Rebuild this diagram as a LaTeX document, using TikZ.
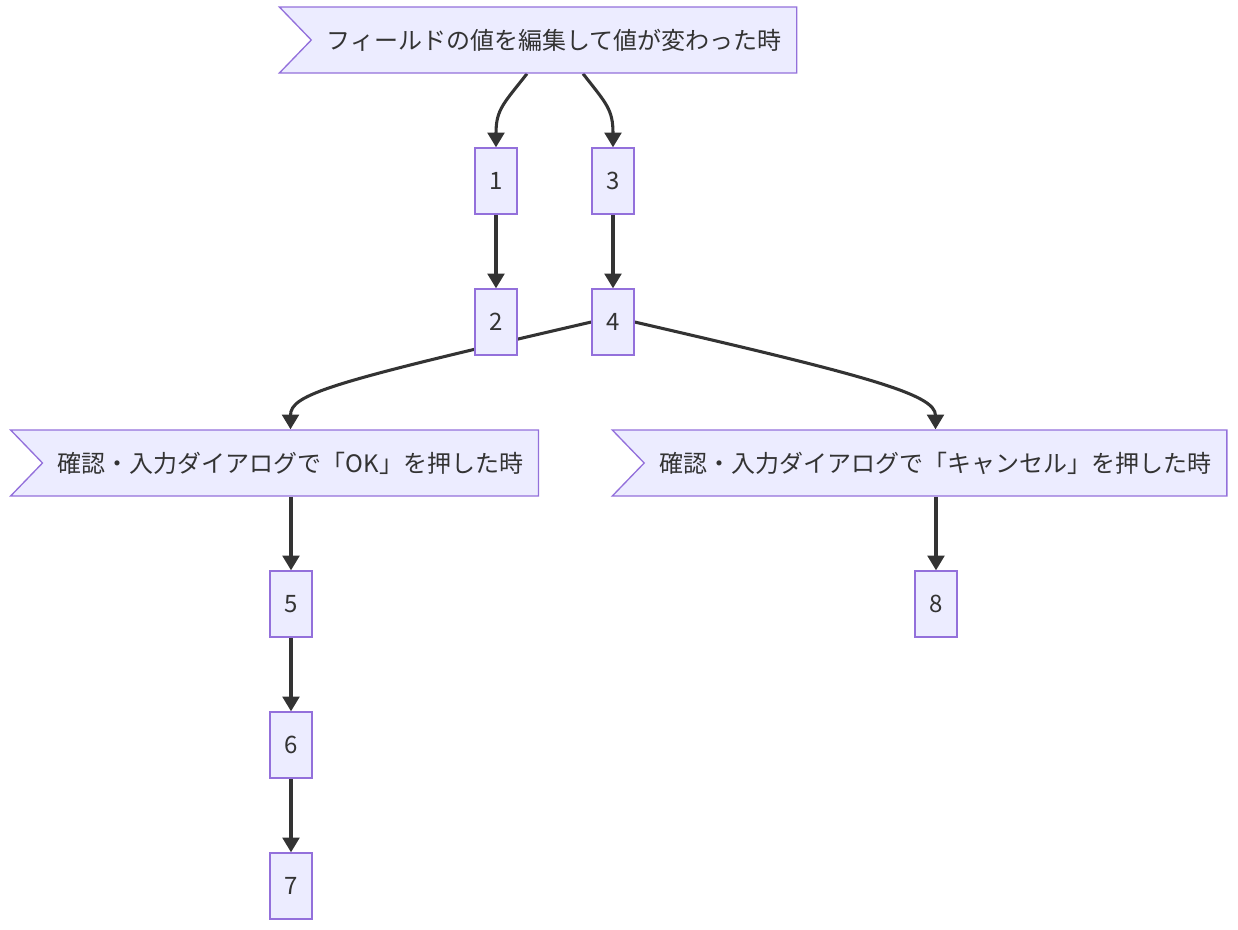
\documentclass[tikz,border=0pt]{standalone}
\usepackage{fontspec}
\setmainfont{Noto Sans CJK JP}
\usetikzlibrary{arrows.meta,shapes.symbols,backgrounds}
\definecolor{boxfill}{HTML}{ECECFF}
\definecolor{boxline}{HTML}{9370DB}
\definecolor{edgeline}{HTML}{333333}
\tikzset{
  stepnode/.style={draw=boxline,fill=boxfill,line width=1pt,text=edgeline,
    minimum width=31.5pt,minimum height=49.5pt,inner sep=0pt},
  flagnode/.style={draw=boxline,fill=boxfill,line width=1pt,text=edgeline,
    shape=signal,signal from=west,signal to=nowhere,signal pointer angle=92,
    minimum height=49.5pt,inner xsep=11.5pt,inner ysep=0pt},
  flow/.style={draw=edgeline,line width=2.3pt,-{Triangle[length=11pt,width=12.5pt]}}
}
\begin{document}
\begin{tikzpicture}[x=0.75pt,y=0.75pt,font=\fontsize{18pt}{22pt}\selectfont]
  \useasboundingbox (0,0) rectangle (1238,-929);
  % trigger
  \node[flagnode] (edit) at (554,-40) {フィールドの値を編集して値が変わった時};
  \node[stepnode] (s1) at (496,-181) {1};
  \node[stepnode] (s3) at (613,-181) {3};
  \node[stepnode] (s2) at (496,-322) {2};
  \node[stepnode] (s4) at (613,-322) {4};
  % dialog result
  \node[flagnode] (ok) at (290.5,-463) {確認・入力ダイアログで「OK」を押した時};
  \node[flagnode] (cancel) at (935.5,-463) {確認・入力ダイアログで「キャンセル」を押した時};
  \node[stepnode] (s5) at (291,-604) {5};
  \node[stepnode] (s6) at (291,-745) {6};
  \node[stepnode] (s7) at (291,-886) {7};
  \node[stepnode] (s8) at (936,-604) {8};
  % connectors
  \begin{scope}[on background layer]
    \draw[flow] ([xshift=-20.25pt]edit.south) .. controls +(-128:38) and +(90:38) .. (s1.north);
    \draw[flow] ([xshift=21.75pt]edit.south) .. controls +(-52:38) and +(90:38) .. (s3.north);
    \draw[flow] (s1) -- (s2);
    \draw[flow] (s3) -- (s4);
    \draw[flow] (s4.west) .. controls +(193:270) and +(90:35) .. (ok.north);
    \draw[flow] (s4.east) .. controls +(-13:240) and +(90:35) .. (cancel.north);
    \draw[flow] (s5 |- ok.south) -- (s5);
    \draw[flow] (s5) -- (s6);
    \draw[flow] (s6) -- (s7);
    \draw[flow] (s8 |- cancel.south) -- (s8);
  \end{scope}
\end{tikzpicture}
\end{document}
